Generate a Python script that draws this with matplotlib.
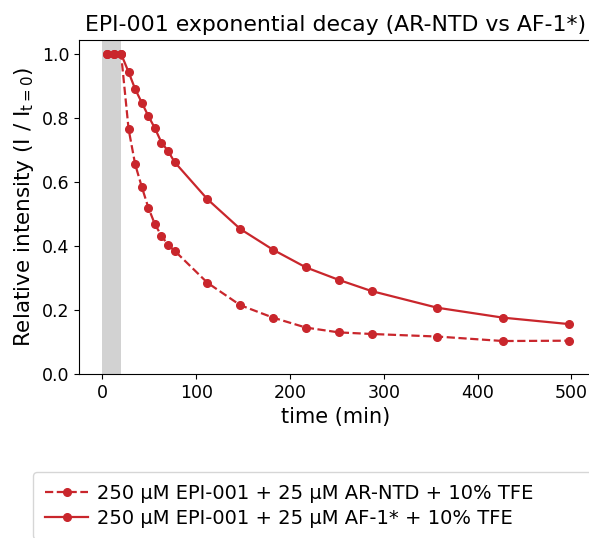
import matplotlib
matplotlib.use('Agg')
import matplotlib.pyplot as plt

# time points (min)
tiempo = [5, 12, 20, 28, 35, 42, 49, 56, 63, 70, 77, 112, 147, 182, 217, 252, 287, 357, 427, 497]

# relative intensity, AR-NTD (dashed)
ar_ntd = [1.0, 1.0, 1.0, 0.765, 0.655, 0.585, 0.52, 0.468, 0.432, 0.403, 0.385,
          0.285, 0.215, 0.176, 0.145, 0.130, 0.125, 0.117, 0.103, 0.104]

# relative intensity, AF-1* (solid)
af1 = [1.0, 1.0, 1.0, 0.943, 0.89, 0.848, 0.806, 0.768, 0.723, 0.697, 0.662,
       0.546, 0.453, 0.388, 0.333, 0.294, 0.259, 0.207, 0.176, 0.156]

rotulos = ['250 μM EPI-001 + 25 μM AR-NTD + 10% TFE',
           '250 μM EPI-001 + 25 μM AF-1* + 10% TFE']

cor = '#c9262c'

fig = plt.figure(figsize=(5.89, 5.38), dpi=100)
ax = fig.add_axes([79 / 589, 1 - 374 / 538, (592 - 79) / 589, (374 - 39.5) / 538])

ax.axvspan(0, 20, color='gray', alpha=0.35, lw=0)
ax.plot(tiempo, ar_ntd, '--', color=cor, marker='o', markersize=5.5, lw=1.6, label=rotulos[0])
ax.plot(tiempo, af1, '-', color=cor, marker='o', markersize=5.5, lw=1.6, label=rotulos[1])

ax.set_ylim(bottom=0)
ax.set_xticks([0, 100, 200, 300, 400, 500])
ax.set_yticks([0.0, 0.2, 0.4, 0.6, 0.8, 1.0])
ax.tick_params(labelsize=12.5)
ax.spines['right'].set_visible(False)

ax.set_title('EPI-001 exponential decay (AR-NTD vs AF-1*)', fontsize=15.8)
ax.set_xlabel('time (min)', fontsize=15)
ax.set_ylabel(r'Relative intensity (I / I$_{\mathrm{t}=0}$)', fontsize=15.5)

# legend box runs past the right edge, like the cropped original
fig.legend(loc='upper left', bbox_to_anchor=(33 / 589, 1 - 472 / 538, 1.0, 0),
           mode='expand', fontsize=14, handlelength=2.25, handletextpad=0.45,
           borderaxespad=0, borderpad=0.6, labelspacing=0.3)

fig.savefig('out.png', dpi=100)
